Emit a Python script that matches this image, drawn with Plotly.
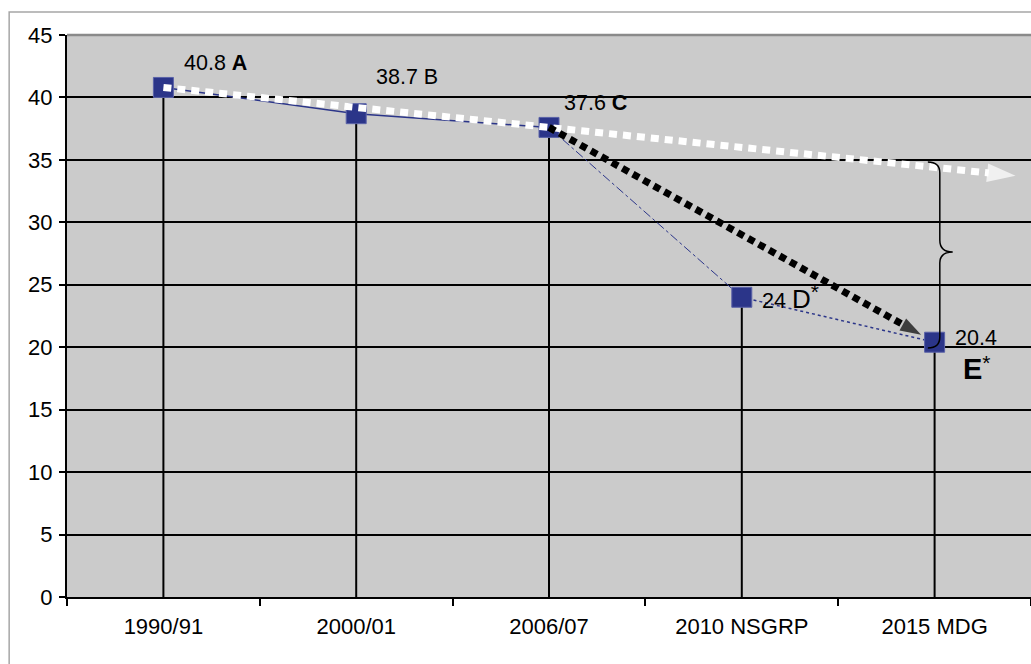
import plotly.graph_objects as go

# ---- data ----
categories = ["1990/91", "2000/01", "2006/07", "2010 NSGRP", "2015 MDG"]
values = [40.8, 38.7, 37.6, 24, 20.4]
value_labels = ["40.8", "38.7", "37.6", "24", "20.4"]
letters = ["A", "B", "C", "D", "E"]
y_ticks = [0, 5, 10, 15, 20, 25, 30, 35, 40, 45]

NAVY = "#2b3589"
FONT = "Liberation Sans, Arial, sans-serif"
xs = list(range(len(categories)))

fig = go.Figure()

# drop lines from each point down to zero
fig.add_trace(go.Scatter(
    x=xs, y=values, mode="markers",
    marker=dict(size=0.1, color="rgba(0,0,0,0)"),
    error_y=dict(type="data", symmetric=False, array=[0] * len(values),
                 arrayminus=values, color="black", thickness=2, width=0),
    hoverinfo="skip", showlegend=False))

# navy connecting segments (solid, dash-dot, dotted)
fig.add_trace(go.Scatter(x=xs[0:3], y=values[0:3], mode="lines",
                         line=dict(color=NAVY, width=1.5), showlegend=False))
fig.add_trace(go.Scatter(x=xs[2:4], y=values[2:4], mode="lines",
                         line=dict(color=NAVY, width=1, dash="dashdot"), showlegend=False))
fig.add_trace(go.Scatter(x=xs[3:5], y=values[3:5], mode="lines",
                         line=dict(color=NAVY, width=1.5, dash="dot"), showlegend=False))

# markers
fig.add_trace(go.Scatter(x=xs, y=values, mode="markers",
                         marker=dict(symbol="square", size=20, color=NAVY,
                                     line=dict(color="#5a62a8", width=1)),
                         showlegend=False))

# white dotted trend arrow: from A through C, extended
slope = (values[2] - values[0]) / (xs[2] - xs[0])
x_tip = 4.42
white_x = [xs[0], x_tip]
white_y = [values[0], values[0] + slope * (x_tip - xs[0])]
fig.add_trace(go.Scatter(x=white_x, y=white_y, mode="lines+markers",
                         line=dict(color="white", width=7, dash="8px,6px"),
                         marker=dict(symbol="arrow", size=[0, 30], color="white",
                                     angleref="previous", line=dict(width=0)),
                         showlegend=False))

# black dotted arrow: from C to E
t = 0.965
black_x = [xs[2], xs[2] + t * (xs[4] - xs[2])]
black_y = [values[2], values[2] + t * (values[4] - values[2])]
fig.add_trace(go.Scatter(x=black_x, y=black_y, mode="lines+markers",
                         line=dict(color="black", width=7, dash="7px,5px"),
                         marker=dict(symbol="arrow", size=[0, 22], color="black",
                                     angleref="previous", line=dict(width=0)),
                         showlegend=False))

# curly brace between trend and target
brace = ("M 3.965,34.83 Q 4.027,34.83 4.027,33.95 L 4.027,28.58 "
         "Q 4.027,27.62 4.094,27.62 Q 4.027,27.62 4.027,26.74 "
         "L 4.027,20.82 Q 4.027,19.94 3.965,19.94")

shapes = [
    dict(type="path", path=brace, xref="x", yref="y",
         line=dict(color="black", width=1.5)),
    # outer frame
    dict(type="rect", xref="paper", yref="paper", x0=-0.06, x1=1.2, y0=-0.3, y1=1.041,
         line=dict(color="#a6a6a6", width=1.5), layer="below"),
    # plot top border
    dict(type="line", xref="paper", yref="paper", x0=0, x1=1, y0=1, y1=1,
         line=dict(color="#8a8a8a", width=2.5)),
]

STAR = "<sup><span style='font-size:21px'>*</span></sup>"
ann_font = dict(family=FONT, size=21.5, color="black")
annotations = [
    dict(x=0.098, y=42.75, text=f"{value_labels[0]} <b>{letters[0]}</b>"),
    dict(x=1.092, y=41.63, text=f"{value_labels[1]} {letters[1]}"),
    dict(x=2.065, y=39.55, text=f"{value_labels[2]} <b>{letters[2]}</b>"),
    dict(x=3.095, y=24.0, text=f"{value_labels[3]} <span style='font-size:26px'>{letters[3]}</span>{STAR}"),
    dict(x=4.094, y=20.74, text=f"{value_labels[4]}"),
    dict(x=4.136, y=18.33, text=f"<b><span style='font-size:29px'>{letters[4]}</span></b>{STAR}"),
]
for a in annotations:
    a.update(xref="x", yref="y", xanchor="left", yanchor="middle",
             showarrow=False, font=ann_font)

boundaries = [i - 0.5 for i in range(len(categories) + 1)]

fig.update_layout(
    width=1031, height=664,
    margin=dict(l=67, r=0, t=35, b=67),
    paper_bgcolor="white", plot_bgcolor="#cbcbcb",
    font=dict(family=FONT, size=22, color="black"),
    shapes=shapes, annotations=annotations,
    xaxis=dict(range=[-0.5, 4.5], tickvals=xs, ticktext=categories, ticks="",
               showgrid=False, zeroline=False, showline=True,
               linecolor="black", linewidth=2, ticklabelstandoff=9,
               tickfont=dict(family=FONT, size=22, color="black"),
               minor=dict(tickvals=boundaries, ticks="outside", ticklen=7,
                          tickcolor="black", tickwidth=1.5, showgrid=False)),
    yaxis=dict(range=[0, 45], tickvals=y_ticks, ticks="outside", ticklen=6,
               tickcolor="black", tickwidth=1.5, ticklabelstandoff=2,
               showline=True, linecolor="black", linewidth=2,
               showgrid=True, gridcolor="black", gridwidth=1.5, zeroline=False,
               tickfont=dict(family=FONT, size=22, color="black")),
)

fig.write_html("out.html", config={"displayModeBar": False},
               post_script="document.body.style.margin='0';document.body.style.overflow='hidden';")
